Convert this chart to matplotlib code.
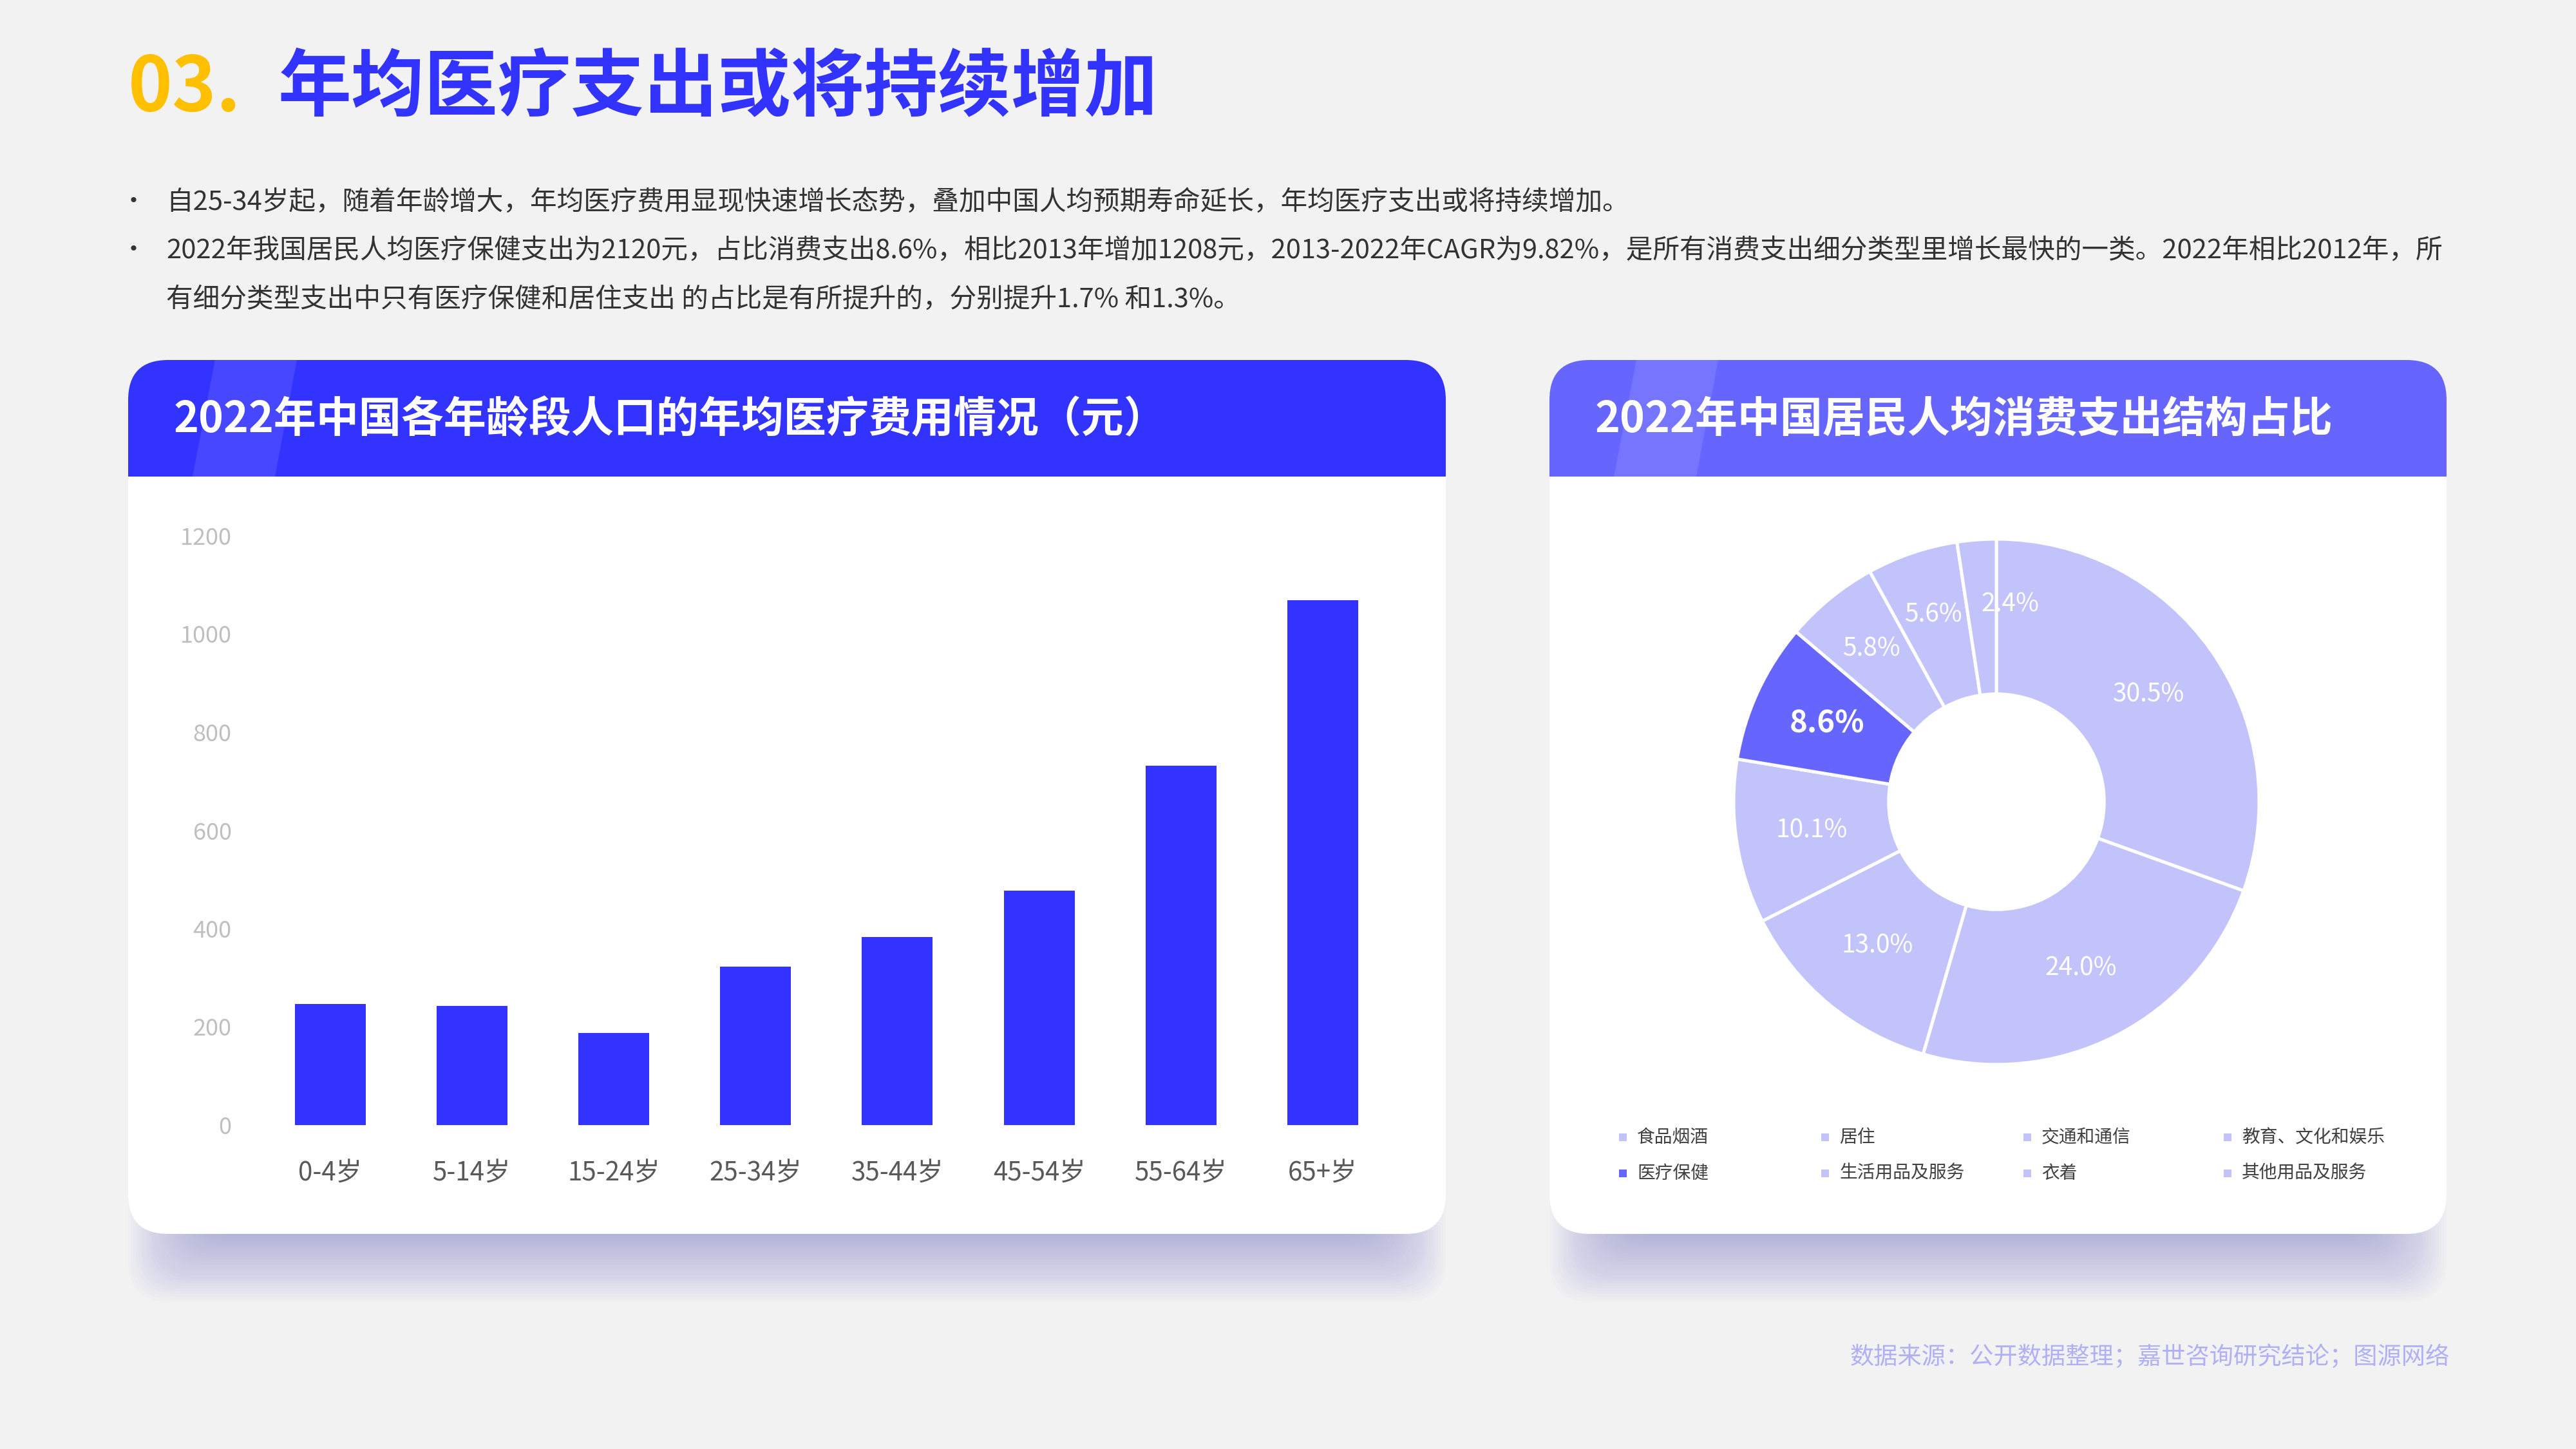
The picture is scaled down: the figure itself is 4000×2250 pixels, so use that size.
import matplotlib
matplotlib.use('Agg')
import matplotlib.pyplot as plt
import numpy as np
from matplotlib.patches import FancyBboxPatch, Rectangle, Polygon

plt.rcParams['font.family'] = ['Noto Sans CJK SC', 'DejaVu Sans']

# data
age_groups = ['0-4岁', '5-14岁', '15-24岁', '25-34岁', '35-44岁', '45-54岁', '55-64岁', '65+岁']
medical_cost = [246, 243, 188, 323, 383, 477, 732, 1069]
y_ticks = [0, 200, 400, 600, 800, 1000, 1200]

spend_types = ['食品烟酒', '居住', '交通和通信', '教育、文化和娱乐',
               '医疗保健', '生活用品及服务', '衣着', '其他用品及服务']
spend_share = [30.5, 24.0, 13.0, 10.1, 8.6, 5.8, 5.6, 2.4]
highlight = '医疗保健'

title_no = '03.'
title_text = '年均医疗支出或将持续增加'
bullets = [
    '自25-34岁起，随着年龄增大，年均医疗费用显现快速增长态势，叠加中国人均预期寿命延长，年均医疗支出或将持续增加。',
    '2022年我国居民人均医疗保健支出为2120元，占比消费支出8.6%，相比2013年增加1208元，2013-2022年CAGR为9.82%，是所有消费支出细分类型里增长最快的一类。2022年相比2012年，所',
    '有细分类型支出中只有医疗保健和居住支出 的占比是有所提升的，分别提升1.7% 和1.3%。',
]
bar_title = '2022年中国各年龄段人口的年均医疗费用情况（元）'
pie_title = '2022年中国居民人均消费支出结构占比'
source = '数据来源：公开数据整理；嘉世咨询研究结论；图源网络'

BLUE = '#3333FF'
MID = '#6666FF'
LIGHT = '#C3C3FC'
BG = '#F2F2F2'

W, H = 4000, 2250
fig = plt.figure(figsize=(40, 22.5), dpi=100, facecolor=BG)
bg = fig.add_axes([0, 0, 1, 1])
bg.set_xlim(0, W)
bg.set_ylim(H, 0)
bg.axis('off')

# title
bg.text(199, 138, title_no, color='#FFC000', fontsize=84, fontweight='heavy', va='center', ha='left')
bg.text(432, 138, title_text, color=BLUE, fontsize=82, fontweight='heavy', va='center', ha='left')

# bullets
for i, line in enumerate(bullets):
    y = [314, 389, 465][i]
    if i < 2:
        bg.text(207, y, '•', color='#333333', fontsize=28, va='center', ha='center')
    bg.text(258, y, line, color='#333333', fontsize=30, va='center', ha='left')


def card(x0, x1, y0, y1, yh, head_color, title):
    r = 62
    # soft shadow below card (stacked layers -> blurred edge)
    for e in np.linspace(-55, 55, 28):
        sh = FancyBboxPatch((x0 + 55 - e, y0 + 200), (x1 - x0) - 110 + 2 * e, (y1 - y0) - 150 + e,
                            boxstyle='round,pad=0,rounding_size=%d' % r,
                            fc='#7070C0', ec='none', alpha=0.018, zorder=1)
        bg.add_patch(sh)
    bg.add_patch(FancyBboxPatch((x0, y0), x1 - x0, y1 - y0,
                                boxstyle='round,pad=0,rounding_size=%d' % r,
                                fc='white', ec='none', zorder=2))
    bg.add_patch(FancyBboxPatch((x0, y0), x1 - x0, yh - y0,
                                boxstyle='round,pad=0,rounding_size=%d' % r,
                                fc=head_color, ec='none', zorder=3))
    bg.add_patch(Rectangle((x0, yh - r), x1 - x0, r, fc=head_color, ec='none', zorder=3))
    # light diagonal stripe
    bg.add_patch(Polygon([(x0 + 135, y0), (x0 + 262, y0), (x0 + 228, yh), (x0 + 100, yh)],
                         closed=True, fc='white', ec='none', alpha=0.1, zorder=4))
    bg.text(x0 + 71, (y0 + yh) / 2 + 2, title, color='white', fontsize=47.5, fontweight='heavy',
            va='center', ha='left', zorder=5)


card(199, 2245, 559, 1916, 740, BLUE, bar_title)
card(2406, 3799, 559, 1916, 740, MID, pie_title)

# bar chart
ax = fig.add_axes([402.7 / W, 1 - 1747 / H, (2164 - 402.7) / W, (1747 - 832) / H])
ax.patch.set_alpha(0)
ax.bar(range(len(age_groups)), medical_cost, width=0.5, color=BLUE, zorder=3)
ax.set_xlim(-0.5, len(age_groups) - 0.5)
ax.set_ylim(0, 1200)
ax.set_yticks(y_ticks)
ax.set_xticks(range(len(age_groups)))
ax.set_xticklabels(age_groups)
ax.tick_params(axis='y', length=0, pad=31, labelsize=26, labelcolor='#BFBFBF')
ax.tick_params(axis='x', length=0, pad=39, labelsize=29, labelcolor='#595959')
for s in ax.spines.values():
    s.set_visible(False)

# donut chart
cx, cy, R = 3100, 1245, 408
pax = fig.add_axes([(cx - R) / W, 1 - (cy + R) / H, 2 * R / W, 2 * R / H])
colors = [MID if t == highlight else LIGHT for t in spend_types]
wedges, texts, autotexts = pax.pie(
    spend_share, colors=colors, startangle=90, counterclock=False,
    autopct=lambda p: '%.1f%%' % p, pctdistance=0.71,
    wedgeprops=dict(width=0.59, edgecolor='white', linewidth=3.6),
    textprops=dict(color='white', fontsize=28))
for t, name, v in zip(autotexts, spend_types, spend_share):
    if name == highlight:
        t.set_fontsize(34)
        t.set_fontweight('bold')
    if v < 6:
        # small slices: label pushed a little outward
        x, y = t.get_position()
        t.set_position((x * 1.06, y * 1.06))
autotexts[-1].set_ha('left')
pax.set_xlim(-1, 1)
pax.set_ylim(-1, 1)
pax.set_aspect('equal')

# legend
col_x = [2520, 2834, 3148, 3459]
row_y = [1766, 1822]
for i, name in enumerate(spend_types):
    x = col_x[i % 4]
    y = row_y[i // 4]
    bg.add_patch(Rectangle((x - 6, y - 6), 12, 12, fc=colors[i], ec='none', zorder=6))
    bg.text(x + 22, y, name, color='#404040', fontsize=20, va='center', ha='left', zorder=6)

# source
bg.text(3804, 2107, source, color='#B0B0F6', fontsize=26.8, va='center', ha='right')

fig.savefig('out.png', dpi=100, facecolor=BG)
